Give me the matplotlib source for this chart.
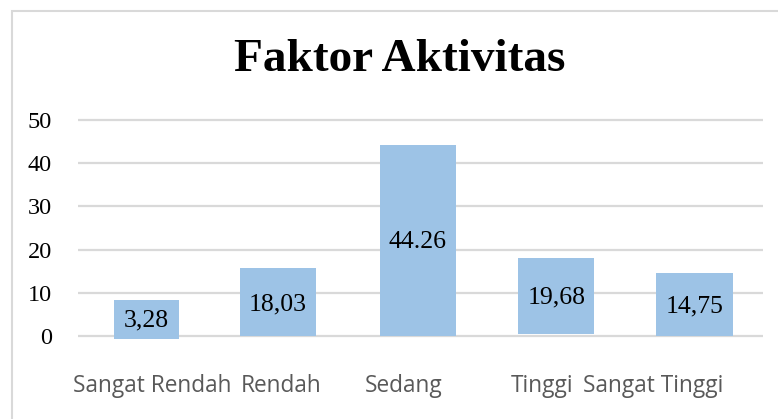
import matplotlib.pyplot as plt
from matplotlib.patches import Rectangle

# data
categories = ['Sangat Rendah', 'Rendah', 'Sedang', 'Tinggi', 'Sangat Tinggi']
bar_bottom = [-0.7, 0.0, 0.0, 0.45, 0.0]
bar_top = [8.3, 15.7, 44.2, 18.0, 14.6]
value_labels = ['3,28', '18,03', '44.26', '19,68', '14,75']
y_ticks = [0, 10, 20, 30, 40, 50]

# layout / style
bar_x = [0.0, 0.96, 1.98, 2.99, 4.0]
bar_w = [0.48, 0.56, 0.555, 0.555, 0.56]
label_y = [3.5, 7.4, 21.8, 8.8, 6.8]
cat_label_x = [0.04, 0.98, 1.88, 2.89, 3.70]
BAR_COLOR = '#9DC3E6'
GRID_COLOR = '#D9D9D9'
SERIF = 'Liberation Serif'

fig = plt.figure(figsize=(7.78, 4.19), dpi=100)
ax = fig.add_axes([0.1003, 0.1776, 0.8805, 0.5565])

heights = [t - b for t, b in zip(bar_top, bar_bottom)]
ax.bar(bar_x, heights, bottom=bar_bottom, width=bar_w, color=BAR_COLOR, zorder=3)

for x, y, txt in zip(bar_x, label_y, value_labels):
    ax.text(x, y, txt, ha='center', va='center', fontsize=18.5,
            family=SERIF, color='black', zorder=4)

ax.set_xlim(-0.5, 4.5)
ax.set_ylim(-2, 52)
ax.set_yticks(y_ticks)
ax.set_yticklabels([str(v) for v in y_ticks], family=SERIF, fontsize=17.5)
ax.set_xticks(cat_label_x)
ax.set_xticklabels(categories, family='Open Sans', fontsize=16.3, color='#595959')
ax.tick_params(axis='both', length=0)
ax.tick_params(axis='y', pad=19)
ax.tick_params(axis='x', pad=21)

for v in y_ticks:
    ax.axhline(v, color=GRID_COLOR, lw=1.6, zorder=1)
for s in ax.spines.values():
    s.set_visible(False)

fig.text(0.514, 0.857, 'Faktor Aktivitas', ha='center', va='center',
         family=SERIF, fontweight='bold', fontsize=34)

# chart frame (only top and left edges visible in the crop)
fig.patches.append(Rectangle((12 / 778, -0.1), 1.2, (419 - 11) / 419 + 0.1,
                             transform=fig.transFigure, fill=False,
                             ec=GRID_COLOR, lw=1.5))

fig.savefig('out.png', dpi=100)
